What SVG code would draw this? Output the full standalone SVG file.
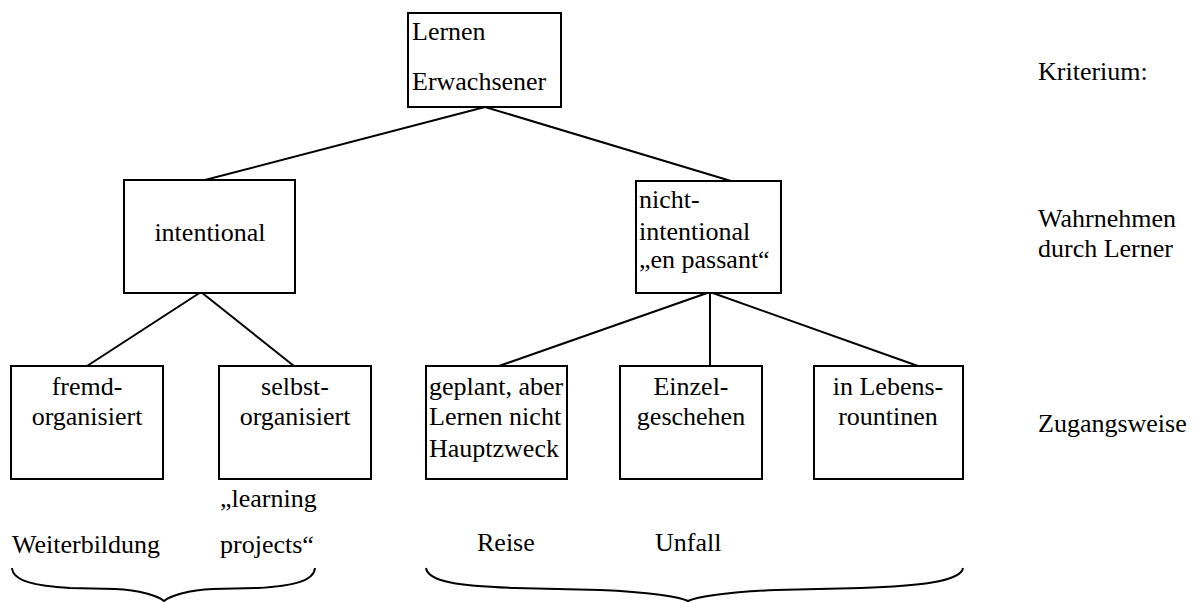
<svg xmlns="http://www.w3.org/2000/svg" width="1197" height="603" viewBox="0 0 1197 603">
<style>
.box{fill:#fff;stroke:#000;stroke-width:2}
text{font-family:'Liberation Serif','DejaVu Serif',serif;font-size:26px;fill:#000}
.c{text-anchor:middle}
#connectors line{stroke:#000;stroke-width:2}
.brace{fill:none;stroke:#000;stroke-width:2}
</style>
<rect width="1197" height="603" fill="#fff"/>
<g id="connectors">
<line x1="485" y1="107" x2="201" y2="181"/>
<line x1="485" y1="107" x2="731" y2="181"/>
<line x1="201" y1="292" x2="87" y2="366"/>
<line x1="201" y1="292" x2="294" y2="366"/>
<line x1="710" y1="292" x2="499" y2="366"/>
<line x1="710" y1="292" x2="710" y2="366"/>
<line x1="710" y1="292" x2="918" y2="366"/>
</g>
<g id="n-root"><rect class="box" x="408" y="13" width="153" height="94"/><text x="412" y="40">Lernen</text><text x="412" y="90">Erwachsener</text></g>
<g id="n-intentional"><rect class="box" x="124" y="180" width="171" height="113"/><text class="c" x="210" y="241">intentional</text></g>
<g id="n-nicht"><rect class="box" x="636" y="181" width="145" height="112"/><text x="639" y="208">nicht-</text><text x="639" y="240">intentional</text><text x="639" y="268">„en passant“</text></g>
<g id="n-fremd"><rect class="box" x="11" y="366" width="152" height="113"/><text class="c" x="87" y="395">fremd-</text><text class="c" x="87" y="425">organisiert</text></g>
<g id="n-selbst"><rect class="box" x="219" y="366" width="152" height="113"/><text class="c" x="295" y="395">selbst-</text><text class="c" x="295" y="425">organisiert</text></g>
<g id="n-geplant"><rect class="box" x="426" y="366" width="141" height="113"/><text x="429" y="395">geplant, aber</text><text x="429" y="425">Lernen nicht</text><text x="429" y="457">Hauptzweck</text></g>
<g id="n-einzel"><rect class="box" x="620" y="366" width="142" height="113"/><text class="c" x="691" y="395">Einzel-</text><text class="c" x="691" y="425">geschehen</text></g>
<g id="n-lebens"><rect class="box" x="814" y="366" width="149" height="113"/><text class="c" x="888" y="395">in Lebens-</text><text class="c" x="888" y="425">rountinen</text></g>
<g id="labels">
<text x="220" y="507">„learning</text>
<text x="220" y="553">projects“</text>
<text x="12" y="553">Weiterbildung</text>
<text x="477" y="551">Reise</text>
<text x="655" y="551">Unfall</text>
<text x="1038" y="80">Kriterium:</text>
<text x="1038" y="227">Wahrnehmen</text>
<text x="1038" y="257">durch Lerner</text>
<text x="1038" y="432">Zugangsweise</text>
</g>
<g id="braces">
<path class="brace" d="M12,568 C13,581 35,586 70,588 L115,589 C140,590 158,596 164,601 C170,596 188,590 213,589 L258,588 C293,586 314,581 315,568"/>
<path class="brace" d="M426,568 C428,582 460,586 515,588 L600,590 C650,592 680,597 688,601 C696,597 726,592 776,590 L861,588 C916,586 961,582 963,568"/>
</g>
</svg>
